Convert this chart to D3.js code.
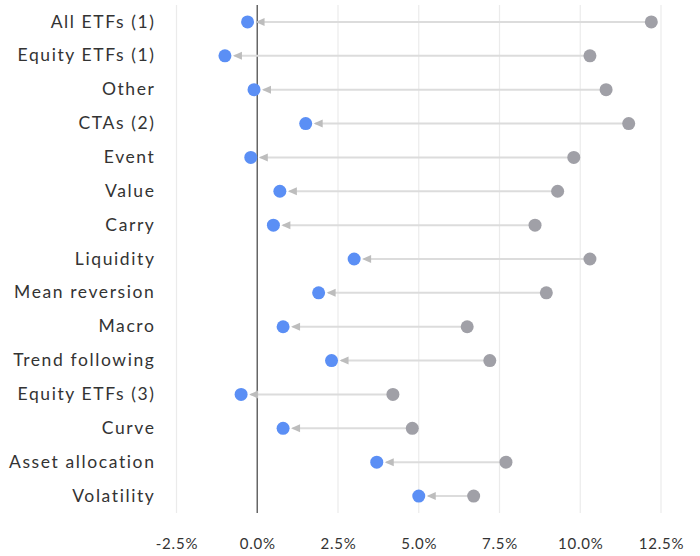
<!DOCTYPE html>
<html>
<head>
<meta charset="utf-8">
<script src="https://cdn.jsdelivr.net/npm/d3@7"></script>
<style>
  body { margin: 0; background: #fff; }
  text { font-family: Lato, "Open Sans", sans-serif; fill: #333; }
</style>
</head>
<body>
<svg></svg>
<script>
const categories = ["All ETFs (1)", "Equity ETFs (1)", "Other", "CTAs (2)", "Event", "Value", "Carry",
  "Liquidity", "Mean reversion", "Macro", "Trend following", "Equity ETFs (3)", "Curve",
  "Asset allocation", "Volatility"];
const previous = [12.2, 10.3, 10.8, 11.5, 9.8, 9.3, 8.6, 10.3, 8.95, 6.5, 7.2, 4.2, 4.8, 7.7, 6.7];
const current = [-0.3, -1.0, -0.1, 1.5, -0.2, 0.7, 0.5, 3.0, 1.9, 0.8, 2.3, -0.5, 0.8, 3.7, 5.0];
const xTicks = [-2.5, 0, 2.5, 5, 7.5, 10, 12.5];

const data = categories.map((c, i) => ({ name: c, prev: previous[i], cur: current[i] }));

const width = 700;
const height = 556;

const svg = d3.select("svg").attr("width", width).attr("height", height);

const x = d3.scaleLinear().domain([-2.5, 12.5]).range([176.5, 661]);
const y = d3.scaleBand().domain(categories).range([5, 513]);

// gridlines
svg.append("g")
    .selectAll("line")
    .data(xTicks.filter(d => d !== 0))
    .join("line")
    .attr("x1", d => x(d)).attr("x2", d => x(d))
    .attr("y1", 5).attr("y2", 513)
    .attr("stroke", "#ebebeb")
    .attr("stroke-width", 1.2);

// zero line
svg.append("line")
    .attr("x1", x(0)).attr("x2", x(0))
    .attr("y1", 5).attr("y2", 513)
    .attr("stroke", "#666")
    .attr("stroke-width", 1.5);

// x axis labels
const xAxis = svg.append("g")
    .attr("transform", `translate(0, 535)`)
    .call(d3.axisBottom(x).tickValues(xTicks).tickFormat(d => d3.format(".1f")(d).replace("\u2212", "-") + "%").tickSize(0));
xAxis.select(".domain").remove();
xAxis.selectAll("text")
    .attr("dy", "0.71em")
    .style("font-family", "Lato, sans-serif")
    .style("font-size", "15px")
    .style("letter-spacing", "0.8px")
    .attr("fill", "#333");

// y labels
const yAxis = svg.append("g")
    .attr("transform", `translate(155.5, 0)`)
    .call(d3.axisLeft(y).tickSize(0).tickPadding(0));
yAxis.select(".domain").remove();
yAxis.selectAll("text")
    .style("font-family", "Lato, sans-serif")
    .style("font-size", "17.5px")
    .style("letter-spacing", "1.6px")
    .attr("fill", "#333");

const cy = d => y(d.name) + y.bandwidth() / 2;
const r = 6.5;

// connecting lines
svg.append("g")
    .selectAll("line")
    .data(data)
    .join("line")
    .attr("x1", d => x(d.prev))
    .attr("x2", d => x(d.cur) + r + 3)
    .attr("y1", cy).attr("y2", cy)
    .attr("stroke", "#dcdcdc")
    .attr("stroke-width", 2);

// arrowheads
svg.append("g")
    .selectAll("path")
    .data(data)
    .join("path")
    .attr("d", d => {
        const tx = x(d.cur) + r + 1.5, ty = cy(d);
        return `M${tx},${ty}L${tx + 9},${ty - 4}L${tx + 9},${ty + 4}Z`;
    })
    .attr("fill", "#bdbdbd");

// previous dots
svg.append("g")
    .selectAll("circle")
    .data(data)
    .join("circle")
    .attr("cx", d => x(d.prev))
    .attr("cy", cy)
    .attr("r", r)
    .attr("fill", "#a0a0a7");

// current dots
svg.append("g")
    .selectAll("circle")
    .data(data)
    .join("circle")
    .attr("cx", d => x(d.cur))
    .attr("cy", cy)
    .attr("r", r)
    .attr("fill", "#5b8ff5");
</script>
</body>
</html>
